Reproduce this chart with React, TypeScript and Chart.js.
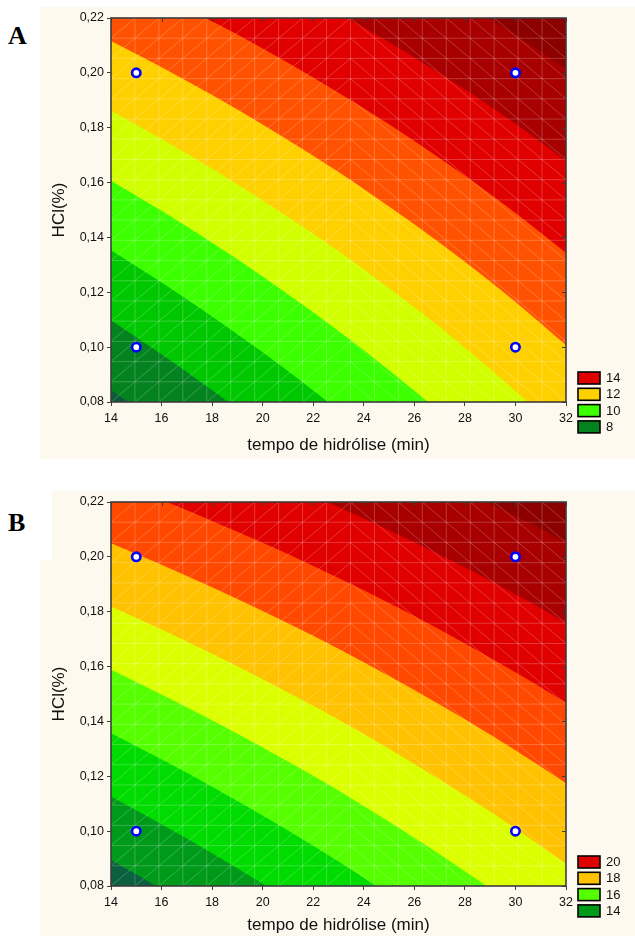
import React, { useEffect, useRef } from 'react';
import { Chart, registerables } from 'chart.js';

Chart.register(...registerables);

// Axis ticks shared by both response-surface panels
const X_TICKS = [14, 16, 18, 20, 22, 24, 26, 28, 30, 32];
const Y_TICKS = [0.08, 0.10, 0.12, 0.14, 0.16, 0.18, 0.20, 0.22];

// Hydrolysis times at which each contour line is sampled
const CURVE_X = [14, 16, 18, 20, 22, 24, 26, 28, 30, 32];

// Experimental design points (time, HCl)
const DESIGN_T = [15, 15, 30, 30];
const DESIGN_HCL = [0.10, 0.20, 0.10, 0.20];

// Panel A: contour levels and HCl(%) of each iso-line at CURVE_X
const LEVELS_A = [7, 8, 9, 10, 11, 12, 13, 14, 15];
const CONTOURS_A = [
  [0.0844, 0.0713, 0.0574, 0.0427, 0.0272, 0.0107, -0.0069, -0.0257, -0.0457, -0.0672],
  [0.1098, 0.0974, 0.0843, 0.0704, 0.0557, 0.0401, 0.0234, 0.0057, -0.0133, -0.0336],
  [0.1353, 0.1236, 0.1112, 0.0981, 0.0842, 0.0695, 0.0538, 0.0371, 0.0192, 0.0000],
  [0.1607, 0.1497, 0.1381, 0.1258, 0.1127, 0.0989, 0.0841, 0.0684, 0.0516, 0.0336],
  [0.1862, 0.1759, 0.1650, 0.1535, 0.1413, 0.1283, 0.1145, 0.0998, 0.0840, 0.0672],
  [0.2116, 0.2020, 0.1919, 0.1812, 0.1698, 0.1577, 0.1448, 0.1311, 0.1165, 0.1008],
  [0.2371, 0.2282, 0.2188, 0.2089, 0.1983, 0.1871, 0.1752, 0.1625, 0.1489, 0.1344],
  [0.2625, 0.2543, 0.2457, 0.2365, 0.2268, 0.2165, 0.2056, 0.1939, 0.1814, 0.1679],
  [0.2880, 0.2805, 0.2726, 0.2642, 0.2553, 0.2459, 0.2359, 0.2252, 0.2138, 0.2015],
];
const LEGEND_A = [14, 12, 10, 8];

// Panel B
const LEVELS_B = [13, 14, 15, 16, 17, 18, 19, 20, 21];
const CONTOURS_B = [
  [0.0895, 0.0789, 0.0677, 0.0560, 0.0436, 0.0306, 0.0169, 0.0024, -0.0130, -0.0292],
  [0.1126, 0.1025, 0.0919, 0.0808, 0.0691, 0.0568, 0.0438, 0.0301, 0.0155, 0.0001],
  [0.1357, 0.1262, 0.1162, 0.1057, 0.0947, 0.0830, 0.0707, 0.0577, 0.0440, 0.0295],
  [0.1588, 0.1498, 0.1404, 0.1305, 0.1202, 0.1092, 0.0976, 0.0854, 0.0725, 0.0588],
  [0.1819, 0.1735, 0.1647, 0.1554, 0.1457, 0.1354, 0.1245, 0.1131, 0.1010, 0.0881],
  [0.2050, 0.1971, 0.1889, 0.1803, 0.1712, 0.1616, 0.1515, 0.1408, 0.1295, 0.1175],
  [0.2281, 0.2208, 0.2131, 0.2051, 0.1967, 0.1878, 0.1784, 0.1684, 0.1579, 0.1468],
  [0.2512, 0.2444, 0.2374, 0.2300, 0.2222, 0.2140, 0.2053, 0.1961, 0.1864, 0.1761],
  [0.2743, 0.2681, 0.2616, 0.2548, 0.2477, 0.2401, 0.2322, 0.2238, 0.2149, 0.2055],
];
const LEGEND_B = [20, 18, 16, 14];

// Band colours, from the lowest band (below the first level) upward
const BANDS_A = ['#0b5a3c', '#03821f', '#00c800', '#3cff00', '#d2ff00', '#ffd000', '#ff5200', '#e00000', '#a80000', '#8c0000'];
const BANDS_B = ['#0b6040', '#009a1a', '#00dc00', '#55ff00', '#dcff00', '#ffc200', '#ff4800', '#e00000', '#a80000', '#8c0000'];

const FONT = '"Liberation Sans", Arial, sans-serif';
const TEXT = '#111';
const PANEL = '#fef9ef';
const MESH_CELLS = 19;

type Props = {
  levels: number[];
  contours: number[][];
  bands: string[];
  legend: number[];
  width: number;
  height: number;
  titlePad: number;
};

function ContourChart({ levels, contours, bands, legend, width, height, titlePad }: Props) {
  const ref = useRef<HTMLCanvasElement>(null);

  useEffect(() => {
    const canvas = ref.current;
    if (!canvas) return;

    const datasets: any[] = levels.map((lvl, i) => ({
      type: 'line',
      label: String(lvl),
      data: CURVE_X.map((x, j) => ({ x, y: contours[i][j] })),
      borderWidth: 0,
      borderColor: 'rgba(0,0,0,0)',
      pointRadius: 0,
      fill: 'end',
      backgroundColor: bands[i + 1],
      cubicInterpolationMode: 'monotone',
      order: 100 - i,
    }));
    datasets.push({
      type: 'scatter',
      label: 'design',
      data: DESIGN_T.map((x, i) => ({ x, y: DESIGN_HCL[i] })),
      pointRadius: 4.2,
      borderWidth: 2.6,
      borderColor: '#0000ff',
      backgroundColor: '#ffffff',
      order: 0,
    });

    const decor = {
      id: 'decor',
      beforeDraw(chart: any) {
        const { ctx, chartArea: a } = chart;
        ctx.save();
        ctx.fillStyle = bands[0];
        ctx.fillRect(a.left, a.top, a.right - a.left, a.bottom - a.top);
        ctx.restore();
      },
      beforeDatasetsDraw(chart: any) {
        // triangulated mesh over the filled bands
        const { ctx, chartArea: a, scales } = chart;
        const xs = scales.x;
        const ys = scales.y;
        const gx = (k: number) => xs.getPixelForValue(xs.min + ((xs.max - xs.min) * k) / MESH_CELLS);
        const gy = (k: number) => ys.getPixelForValue(ys.min + ((ys.max - ys.min) * k) / MESH_CELLS);
        ctx.save();
        ctx.beginPath();
        ctx.rect(a.left, a.top, a.right - a.left, a.bottom - a.top);
        ctx.clip();
        ctx.strokeStyle = 'rgba(255,255,255,0.22)';
        ctx.lineWidth = 1;
        ctx.beginPath();
        for (let k = 1; k < MESH_CELLS; k++) {
          ctx.moveTo(gx(k), a.top);
          ctx.lineTo(gx(k), a.bottom);
          ctx.moveTo(a.left, gy(k));
          ctx.lineTo(a.right, gy(k));
        }
        for (let i = 0; i < MESH_CELLS; i++) {
          for (let j = 0; j < MESH_CELLS; j++) {
            if (i < 10) {
              ctx.moveTo(gx(i), gy(j));
              ctx.lineTo(gx(i + 1), gy(j + 1));
            } else {
              ctx.moveTo(gx(i), gy(j + 1));
              ctx.lineTo(gx(i + 1), gy(j));
            }
          }
        }
        ctx.stroke();
        ctx.restore();
      },
      afterDatasetsDraw(chart: any) {
        const { ctx, chartArea: a, scales } = chart;
        ctx.save();
        ctx.strokeStyle = '#3c3c3c';
        ctx.lineWidth = 1.6;
        ctx.strokeRect(a.left, a.top, a.right - a.left, a.bottom - a.top);
        ctx.lineWidth = 1;
        ctx.beginPath();
        X_TICKS.forEach((v) => {
          const px = Math.round(scales.x.getPixelForValue(v)) + 0.5;
          ctx.moveTo(px, a.top);
          ctx.lineTo(px, a.top + 4);
        });
        Y_TICKS.forEach((v) => {
          const py = Math.round(scales.y.getPixelForValue(v)) + 0.5;
          ctx.moveTo(a.right, py);
          ctx.lineTo(a.right - 4, py);
        });
        ctx.stroke();
        ctx.restore();
      },
      afterDraw(chart: any) {
        const { ctx, chartArea: a } = chart;
        ctx.save();
        legend.forEach((lvl, k) => {
          const idx = levels.indexOf(lvl);
          const y0 = a.bottom - 30 + k * 16.3;
          const x0 = a.right + 12;
          ctx.fillStyle = bands[idx];
          ctx.fillRect(x0, y0, 22, 12);
          ctx.strokeStyle = '#000';
          ctx.lineWidth = 1.6;
          ctx.strokeRect(x0, y0, 22, 12);
          ctx.fillStyle = TEXT;
          ctx.font = `13px ${FONT}`;
          ctx.textBaseline = 'middle';
          ctx.textAlign = 'left';
          ctx.fillText(String(lvl), a.right + 40, y0 + 6.5);
        });
        ctx.restore();
      },
    };

    const chart = new Chart(canvas, {
      type: 'scatter',
      data: { datasets },
      options: {
        responsive: false,
        animation: false,
        events: [],
        layout: { padding: { left: 0, top: 11, right: 69, bottom: 0 } },
        plugins: {
          legend: { display: false },
          tooltip: { enabled: false },
          filler: { drawTime: 'beforeDatasetsDraw' },
        } as any,
        scales: {
          x: {
            type: 'linear',
            min: 14,
            max: 32,
            z: 1,
            afterBuildTicks: (s: any) => {
              s.ticks = X_TICKS.map((v) => ({ value: v }));
            },
            afterFit: (s: any) => {
              s.height = height - 395;
            },
            grid: { drawOnChartArea: false, drawTicks: true, tickLength: 4, color: '#3c3c3c', lineWidth: 1 },
            border: { display: false },
            ticks: {
              font: { family: FONT, size: 12.5 },
              color: TEXT,
              padding: 5,
              maxRotation: 0,
              autoSkip: false,
              callback: (v: any) => String(v),
            },
            title: {
              display: true,
              text: 'tempo de hidrólise (min)',
              font: { family: FONT, size: 17 },
              color: TEXT,
              padding: { top: 0, bottom: titlePad },
            },
          },
          y: {
            type: 'linear',
            min: 0.08,
            max: 0.22,
            z: 1,
            afterBuildTicks: (s: any) => {
              s.ticks = Y_TICKS.map((v) => ({ value: v }));
            },
            afterFit: (s: any) => {
              s.width = 71;
            },
            grid: { drawOnChartArea: false, drawTicks: true, tickLength: 4, color: '#3c3c3c', lineWidth: 1 },
            border: { display: false },
            ticks: {
              font: { family: FONT, size: 12.5 },
              color: TEXT,
              padding: 3,
              autoSkip: false,
              callback: (v: any) => Number(v).toFixed(2).replace('.', ','),
            },
            title: {
              display: true,
              text: 'HCl(%)',
              font: { family: FONT, size: 17 },
              color: TEXT,
              padding: { top: 9, bottom: 0 },
            },
          },
        },
      } as any,
      plugins: [decor],
    });

    return () => chart.destroy();
  }, [levels, contours, bands, legend, width, height, titlePad]);

  return <canvas ref={ref} width={width} height={height} style={{ display: 'block', width, height }} />;
}

const panelLabel: React.CSSProperties = {
  position: 'absolute',
  fontFamily: '"Liberation Serif", "Times New Roman", serif',
  fontWeight: 'bold',
  fontSize: 26,
  lineHeight: '26px',
  color: '#000',
};

export default function App() {
  return (
    <div style={{ position: 'absolute', left: 0, top: 0, width: 635, height: 936, background: '#fff', overflow: 'hidden' }}>
      <div style={{ position: 'absolute', left: 40, top: 7, width: 595, height: 452, background: PANEL }}>
        <ContourChart levels={LEVELS_A} contours={CONTOURS_A} bands={BANDS_A} legend={LEGEND_A} width={595} height={452} titlePad={3.5} />
      </div>
      <div style={{ position: 'absolute', left: 8, top: 23.4, ...panelLabel }}>A</div>

      <div style={{ position: 'absolute', left: 40, top: 491, width: 595, height: 445, background: PANEL }}>
        <ContourChart levels={LEVELS_B} contours={CONTOURS_B} bands={BANDS_B} legend={LEGEND_B} width={595} height={445} titlePad={0} />
      </div>
      <div style={{ position: 'absolute', left: 0, top: 491, width: 52, height: 69, background: '#fff' }} />
      <div style={{ position: 'absolute', left: 8, top: 510.4, ...panelLabel }}>B</div>
    </div>
  );
}
